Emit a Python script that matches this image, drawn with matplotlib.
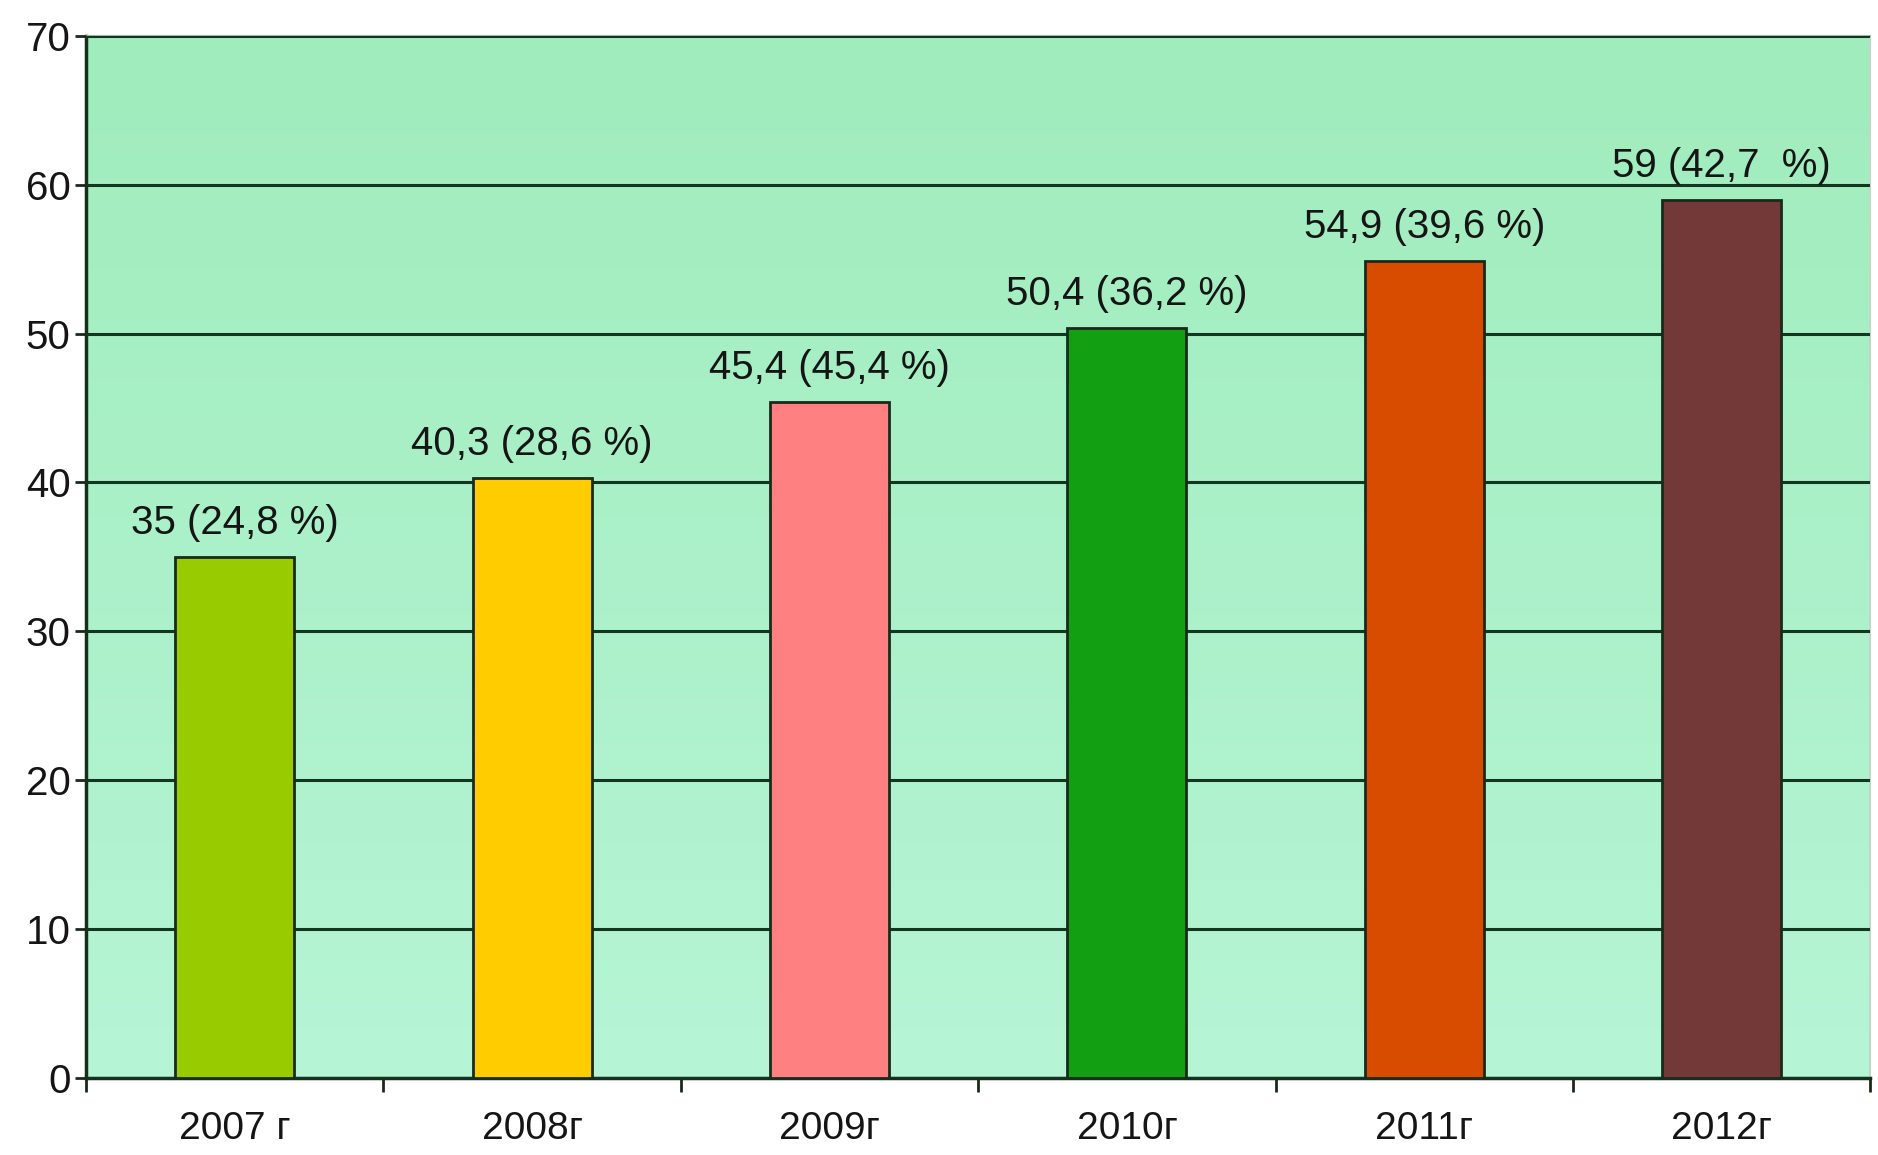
import numpy as np
import matplotlib.pyplot as plt
from matplotlib.colors import LinearSegmentedColormap

years = ["2007 г", "2008г", "2009г", "2010г", "2011г", "2012г"]
values = [35, 40.3, 45.4, 50.4, 54.9, 59]
labels = ["35 (24,8 %)", "40,3 (28,6 %)", "45,4 (45,4 %)",
          "50,4 (36,2 %)", "54,9 (39,6 %)", "59 (42,7  %)"]
colors = ["#99cc00", "#ffcc00", "#ff8080", "#12a012", "#d84c00", "#733838"]

plt.rcParams["font.family"] = ["Liberation Sans", "DejaVu Sans"]

fig = plt.figure(figsize=(18.78, 11.55), dpi=100)
ax = fig.add_axes([0.0458, 0.0667, 0.9502, 0.9023])

# Gradient background
grad = np.linspace(0, 1, 256).reshape(-1, 1)
cmap = LinearSegmentedColormap.from_list("bg", ["#b6f5d6", "#a0ecbc"])
ax.imshow(grad, cmap=cmap, aspect="auto", extent=[-0.5, 5.5, 0, 70],
          origin="lower", zorder=0)

x = np.arange(len(years))
ax.bar(x, values, width=0.4, color=colors, edgecolor="#1a2a1a",
       linewidth=2, zorder=3)

for xi, v, lab in zip(x, values, labels):
    ax.text(xi, v + 1.0, lab, ha="center", va="bottom", fontsize=29,
            color="#151515", zorder=4)

ax.set_xlim(-0.5, 5.5)
ax.set_ylim(0, 70)
ax.set_yticks(range(0, 71, 10))
ax.yaxis.grid(True, color="#123620", linewidth=2.2)
ax.set_axisbelow(False)
for gl in ax.get_ygridlines():
    gl.set_zorder(2)

ax.set_xticks(x)
ax.set_xticklabels(years)
ax.set_xticks(np.arange(-0.5, 6, 1), minor=True)
ax.tick_params(axis="x", which="major", length=0, labelsize=28, pad=24,
               labelcolor="#151515")
ax.tick_params(axis="x", which="minor", length=10, width=2, direction="out",
               color="#1a2a1a")
ax.tick_params(axis="y", length=8, width=2, labelsize=29, pad=3,
               color="#1a2a1a", labelcolor="#151515")

ax.spines["left"].set_color("#14301c")
ax.spines["left"].set_linewidth(2.5)
ax.spines["bottom"].set_color("#14301c")
ax.spines["bottom"].set_linewidth(2.5)
ax.spines["top"].set_color("#9ab8a4")
ax.spines["top"].set_linewidth(1.5)
ax.spines["right"].set_color("#c0d8c8")
ax.spines["right"].set_linewidth(1.5)

fig.savefig("out.png", dpi=100)
